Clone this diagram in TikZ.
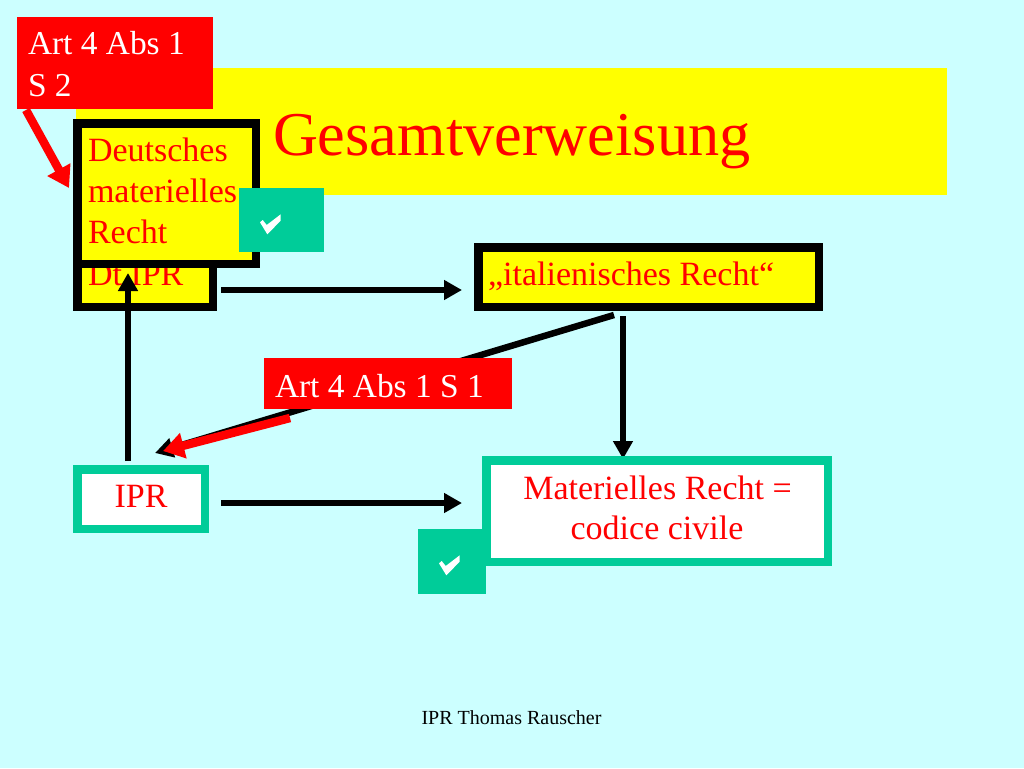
\documentclass[tikz,border=0pt]{standalone}
\usepackage{fontspec}
\setmainfont{Liberation Serif}
\usetikzlibrary{arrows.meta}
\definecolor{bgc}{HTML}{CCFFFF}
\definecolor{teal2}{HTML}{00CC99}
\definecolor{yel}{HTML}{FFFF00}
\definecolor{rd}{HTML}{FF0000}
\tikzset{
  fillbox/.style={rectangle,inner sep=0pt,outer sep=0pt,draw=none},
  framebox/.style={rectangle,inner sep=0pt,outer sep=0pt,line width=8.5pt},
  blackframe/.style={framebox,draw=black,fill=yel},
  tealframe/.style={framebox,draw=teal2,fill=white},
  lbl/.style={inner sep=0pt,outer sep=0pt,font=\fontsize{34}{34}\selectfont,text=rd},
  wlbl/.style={lbl,text=white,font=\fontsize{33.4}{34}\selectfont},
  conn/.style={draw=black,line width=6.5pt,-{Triangle[length=18pt,width=19pt]}},
  rconn/.style={draw=rd,line width=8.5pt,-{Triangle[length=21pt,width=25pt]}},
  ticksym/.style={fill=white,draw=none}
}
\newcommand{\tickmark}[2]{\fill[ticksym,shift={(#1,#2)}] (0,8.3) -- (2.7,6) -- (6.7,11) -- (20.7,0.3) -- (20.7,6.7) -- (7.3,20.3) -- cycle;}
\begin{document}
\begin{tikzpicture}[x=1pt,y=-1pt]
\useasboundingbox (0,0) rectangle (1024,768);
\fill[bgc] (0,0) rectangle (1024,768);
% title
\node[fillbox,fill=yel,minimum width=871pt,minimum height=127pt] (titlebox) at (511.5,131.5) {};
\node[lbl,anchor=base west,font=\fontsize{62.3}{64}\selectfont] (title) at (273,155) {Gesamtverweisung};
% red note top
\node[fillbox,fill=rd,minimum width=196pt,minimum height=92pt] (note2) at (115,63) {};
\node[wlbl,anchor=base west] (note2a) at (28,55) {Art 4 Abs 1};
\node[wlbl,anchor=base west] (note2b) at (28,96) {S 2};
% Dt IPR
\node[blackframe,minimum width=135.5pt,minimum height=60pt] (dtipr) at (145,277) {};
\node[lbl,anchor=base west] (dtiprt) at (88,285) {Dt IPR};
% Deutsches materielles Recht
\node[blackframe,minimum width=178.5pt,minimum height=140.5pt] (dmr) at (166.5,193.5) {};
\node[lbl,anchor=base west] (dmr1) at (88,161) {Deutsches};
\node[lbl,anchor=base west] (dmr2) at (88,202) {materielles};
\node[lbl,anchor=base west] (dmr3) at (88,243) {Recht};
\node[fillbox,fill=teal2,minimum width=85pt,minimum height=64pt] (chk1) at (281.5,220) {};
\tickmark{260}{214}
% italienisches Recht
\node[blackframe,minimum width=340.5pt,minimum height=59.5pt] (ital) at (648.5,277) {};
\node[lbl,anchor=base west] (italt) at (488,285) {„italienisches Recht“};
% IPR
\node[tealframe,minimum width=127.5pt,minimum height=59.5pt] (ipr) at (141,499) {};
\node[lbl,anchor=base] (iprt) at (141,507) {IPR};
% connectors
\coordinate (c1a) at (221,290); \coordinate (c1b) at (462,290);
\coordinate (c2a) at (221,503); \coordinate (c2b) at (462,503);
\coordinate (c3a) at (623,316); \coordinate (c3b) at (623,459);
\coordinate (c4a) at (128,461); \coordinate (c4b) at (128,273);
\coordinate (c5a) at (614,315); \coordinate (c5b) at (155,453);
\coordinate (c6a) at (290,418); \coordinate (c6b) at (163,451);
\coordinate (c7a) at (26,110); \coordinate (c7b) at (69,188);
\draw[conn] (c1a) -- (c1b);
\draw[conn] (c2a) -- (c2b);
\draw[conn] (c3a) -- (c3b);
\draw[conn] (c4a) -- (c4b);
\draw[conn] (c5a) -- (c5b);
\draw[rconn] (c6a) -- (c6b);
\draw[rconn] (c7a) -- (c7b);
% Materielles
\node[tealframe,minimum width=341.5pt,minimum height=101.5pt] (mat) at (657,511) {};
\node[lbl,anchor=base] (mat1) at (657.5,499) {Materielles Recht =};
\node[lbl,anchor=base] (mat2) at (657,539) {codice civile};
\node[fillbox,fill=teal2,minimum width=68pt,minimum height=65pt] (chk2) at (452,561.5) {};
\tickmark{439}{555}
% red note middle
\node[fillbox,fill=rd,minimum width=248pt,minimum height=51pt] (note1) at (388,383.5) {};
\node[wlbl,anchor=base west] (note1t) at (275,397) {Art 4 Abs 1 S 1};
% footer
\node[lbl,anchor=base,text=black,font=\fontsize{20}{20}\selectfont] (foot) at (511.5,724) {IPR Thomas Rauscher};
\end{tikzpicture}
\end{document}
